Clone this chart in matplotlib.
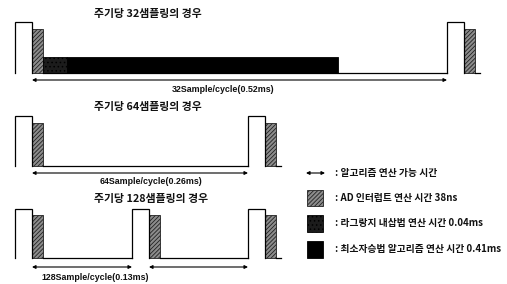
import matplotlib
matplotlib.use('Agg')
import matplotlib.pyplot as plt
from matplotlib.patches import Rectangle

# ---- data ----
titles = ['주기당 32샘플링의 경우', '주기당 64샘플링의 경우', '주기당 128샘플링의 경우']
cycle_labels = ['32Sample/cycle(0.52ms)', '64Sample/cycle(0.26ms)', '128Sample/cycle(0.13ms)']
# start of each sampling pulse on the time axis, per row
pulse_starts = [[15, 447], [15, 248], [15, 132, 248]]
# computation blocks in the 32-sample row (start, end)
lagrange_span = (43, 67)
lsq_span = (67, 338)
legend_labels = [': 알고리즘 연산 가능 시간',
                 ': AD 인터럽트 연산 시간 38ns',
                 ': 라그랑지 내삽법 연산 시간 0.04ms',
                 ': 최소자승법 알고리즘 연산 시간 0.41ms']

# ---- layout ----
baseline_y = [73, 166, 258]
pulse_top = [22, 116, 209]
hatch_top = [29, 123, 215]
title_y = [14, 107, 199]
title_x = [148, 148, 151]
arrow_y = [80, 173, 267]
label_y = [90, 182, 277]
label_x = [223, 151, 95]
block_top = 57
pulse_w = 17
hatch_w = 10.5
tail = 5

KR = ['Noto Sans CJK KR', 'DejaVu Sans']
HATCH_FC = '#8c8c8c'
LAG_FC = '#1c1c1c'

plt.rcParams['hatch.linewidth'] = 0.6
plt.rcParams['hatch.color'] = '#333333'
fig = plt.figure(figsize=(5.07, 2.84), dpi=100)
ax = fig.add_axes([0, 0, 1, 1])
ax.set_xlim(0, 507)
ax.set_ylim(284, 0)
ax.axis('off')

def hatched(x, y0, y1, w):
    ax.add_patch(Rectangle((x, y1), w, y0 - y1, facecolor=HATCH_FC,
                           edgecolor='#222222', hatch='////////', lw=0.6))

for r in range(3):
    b = baseline_y[r]
    starts = pulse_starts[r]
    ax.text(title_x[r], title_y[r], titles[r], ha='center', va='center',
            fontsize=7.8, fontweight='bold', family=KR, color='#111111')
    for i, x0 in enumerate(starts):
        x1 = x0 + pulse_w
        # white pulse outline
        ax.plot([x0, x0, x1, x1], [b, pulse_top[r], pulse_top[r], b],
                color='black', lw=0.9, solid_joinstyle='miter')
        hatched(x1, b, hatch_top[r], hatch_w)
        hend = x1 + hatch_w
        nxt = starts[i + 1] if i + 1 < len(starts) else hend + tail
        ax.plot([hend, nxt], [b, b], color='black', lw=0.9)
        if i + 1 < len(starts):
            ax.annotate('', xy=(starts[i + 1], arrow_y[r]), xytext=(x1, arrow_y[r]),
                        arrowprops=dict(arrowstyle='<|-|>', color='black', lw=0.8,
                                        mutation_scale=5, shrinkA=0, shrinkB=0))
    ax.text(label_x[r], label_y[r], cycle_labels[r], ha='center', va='center',
            fontsize=6.4, fontweight='bold', family=['Liberation Sans', 'DejaVu Sans'],
            color='#111111')

# computation blocks in row 1
b = baseline_y[0]
ax.add_patch(Rectangle((lagrange_span[0], block_top), lagrange_span[1] - lagrange_span[0],
                       b - block_top, facecolor=LAG_FC, edgecolor='black', lw=0.6,
                       hatch='....'))
ax.add_patch(Rectangle((lsq_span[0], block_top), lsq_span[1] - lsq_span[0],
                       b - block_top, facecolor='black', edgecolor='black', lw=0.6))

# ---- legend ----
leg_x = 307
leg_w = 16
leg_text_x = 335
leg_y = [173, 198, 223, 249]
ax.annotate('', xy=(325, leg_y[0]), xytext=(306, leg_y[0]),
            arrowprops=dict(arrowstyle='<|-|>', color='black', lw=0.8,
                            mutation_scale=5, shrinkA=0, shrinkB=0))
hatched(leg_x, leg_y[1] + 8, leg_y[1] - 8, leg_w)
ax.add_patch(Rectangle((leg_x, leg_y[2] - 8), leg_w, 17, facecolor=LAG_FC,
                       edgecolor='black', lw=0.6, hatch='....'))
ax.add_patch(Rectangle((leg_x, leg_y[3] - 8), leg_w, 17, facecolor='black',
                       edgecolor='black', lw=0.6))
for y, t in zip(leg_y, legend_labels):
    ax.text(leg_text_x, y, t, ha='left', va='center', fontsize=7.0,
            fontweight='bold', family=KR, color='#111111')

fig.savefig('out.png', dpi=100)
